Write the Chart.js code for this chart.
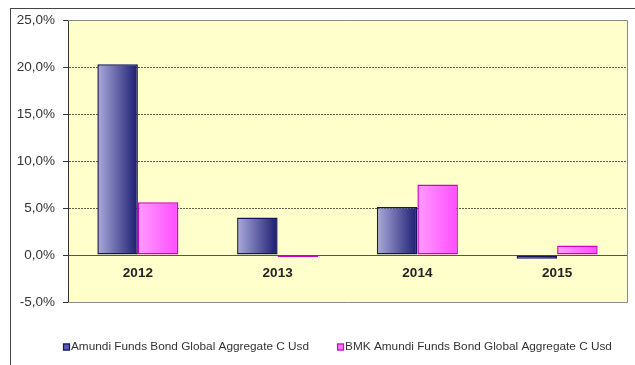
<!DOCTYPE html>
<html>
<head>
<meta charset="utf-8">
<script src="https://cdn.jsdelivr.net/npm/chart.js@4"></script>
<style>
  body { margin: 0; background: #fff; }
  #wrap { position: relative; width: 635px; height: 365px; }
  #frame { position: absolute; left: 10px; top: 8px; right: 0; bottom: 0;
           border-top: 1px solid #444; border-left: 1px solid #444; pointer-events: none; }
</style>
</head>
<body>
<div id="wrap">
  <canvas id="perf" width="635" height="365"></canvas>
  <div id="frame"></div>
</div>
<script>
const years = ['2012', '2013', '2014', '2015'];
const fundReturns = [20.3, 4.0, 5.1, -0.4];
const benchReturns = [5.6, -0.1, 7.5, 1.0];
const fundName = 'Amundi Funds Bond Global Aggregate C Usd';
const benchName = 'BMK Amundi Funds Bond Global Aggregate C Usd';

const CAT_PCT = 0.58;
const FONT = 'Arial, "Liberation Sans", sans-serif';

// horizontal shading across each bar, light on the left, dark on the right
function shade(light, dark) {
    return (ctx) => {
        const chart = ctx.chart;
        const x = chart.scales.x;
        if (!x || ctx.dataIndex === undefined) return dark;
        const center = x.getPixelForValue(ctx.dataIndex);
        const groupW = (x.width / years.length) * CAT_PCT;
        if (!isFinite(center) || !isFinite(groupW) || groupW <= 0) return dark;
        const left = ctx.datasetIndex === 0 ? center - groupW / 2 : center;
        const g = chart.ctx.createLinearGradient(left, 0, left + groupW / 2, 0);
        g.addColorStop(0, light);
        g.addColorStop(1, dark);
        return g;
    };
}

const plotBg = {
    id: 'plotBg',
    beforeDraw(chart) {
        const {ctx, chartArea: a} = chart;
        ctx.save();
        ctx.fillStyle = '#ffffcc';
        ctx.fillRect(a.left, a.top, a.right - a.left, a.bottom - a.top);
        ctx.restore();
    },
    afterDraw(chart) {
        const {ctx, chartArea: a} = chart;
        ctx.save();
        ctx.strokeStyle = '#8a8a8a';
        ctx.lineWidth = 1;
        ctx.beginPath();
        ctx.moveTo(a.left, a.top + 0.5);
        ctx.lineTo(a.right + 0.5, a.top + 0.5);
        ctx.lineTo(a.right + 0.5, a.bottom + 0.5);
        ctx.lineTo(a.left, a.bottom + 0.5);
        ctx.stroke();
        ctx.restore();
    }
};

// legend row under the plot
const bottomLegend = {
    id: 'bottomLegend',
    afterDraw(chart) {
        const {ctx, chartArea: a} = chart;
        ctx.save();
        ctx.font = '11.8px ' + FONT;
        ctx.textBaseline = 'middle';
        const y = 347;
        let x = a.left - 5;
        const items = [
            {text: fundName, fill: '#5a5ab0', stroke: '#14145e'},
            {text: benchName, fill: '#ff77ff', stroke: '#cc00cc'}
        ];
        items.forEach(it => {
            ctx.fillStyle = it.fill;
            ctx.fillRect(x, y - 3.5, 7, 7);
            ctx.strokeStyle = it.stroke;
            ctx.lineWidth = 1.2;
            ctx.strokeRect(x + 0.5, y - 3, 6, 6);
            ctx.fillStyle = '#333';
            ctx.fillText(it.text, x + 8, y);
            x += 8 + ctx.measureText(it.text).width + 28;
        });
        ctx.restore();
    }
};

new Chart(document.getElementById('perf'), {
    type: 'bar',
    data: {
        labels: years,
        datasets: [{
            label: fundName,
            data: fundReturns,
            backgroundColor: shade('#ababdc', '#1c1c72'),
            borderColor: '#14145e',
            borderWidth: 1.5,
            borderSkipped: false,
            categoryPercentage: CAT_PCT,
            barPercentage: 1.0,
            minBarLength: 2
        }, {
            label: benchName,
            data: benchReturns,
            backgroundColor: shade('#ff9cff', '#ff4cff'),
            borderColor: '#cc00cc',
            borderWidth: 1.5,
            borderSkipped: false,
            categoryPercentage: CAT_PCT,
            barPercentage: 1.0,
            minBarLength: 2
        }]
    },
    options: {
        responsive: false,
        animation: false,
        layout: { padding: { left: 0, right: 8, top: 20, bottom: 63 } },
        plugins: {
            legend: { display: false },
            tooltip: { enabled: false }
        },
        scales: {
            x: {
                position: { y: 0 },
                grid: { display: false, drawTicks: false },
                border: { display: false },
                ticks: {
                    padding: 10,
                    color: '#222',
                    font: { family: FONT, size: 13.5, weight: 'bold' }
                }
            },
            y: {
                min: -5,
                max: 25,
                afterFit: (s) => { s.width = 68; },
                ticks: {
                    stepSize: 5,
                    padding: 8,
                    color: '#333',
                    font: { family: FONT, size: 13.5 },
                    callback: (v) => v.toFixed(1).replace('.', ',') + '%'
                },
                grid: {
                    color: (c) => c.tick && c.tick.value === 0 ? '#555' : '#5e5e48',
                    tickColor: '#333',
                    tickLength: 5,
                    tickBorderDash: []
                },
                border: {
                    display: true,
                    color: '#333',
                    width: 1,
                    dash: (c) => c.tick && c.tick.value === 0 ? [] : [2, 1]
                }
            }
        }
    },
    plugins: [plotBg, bottomLegend]
});
</script>
</body>
</html>
